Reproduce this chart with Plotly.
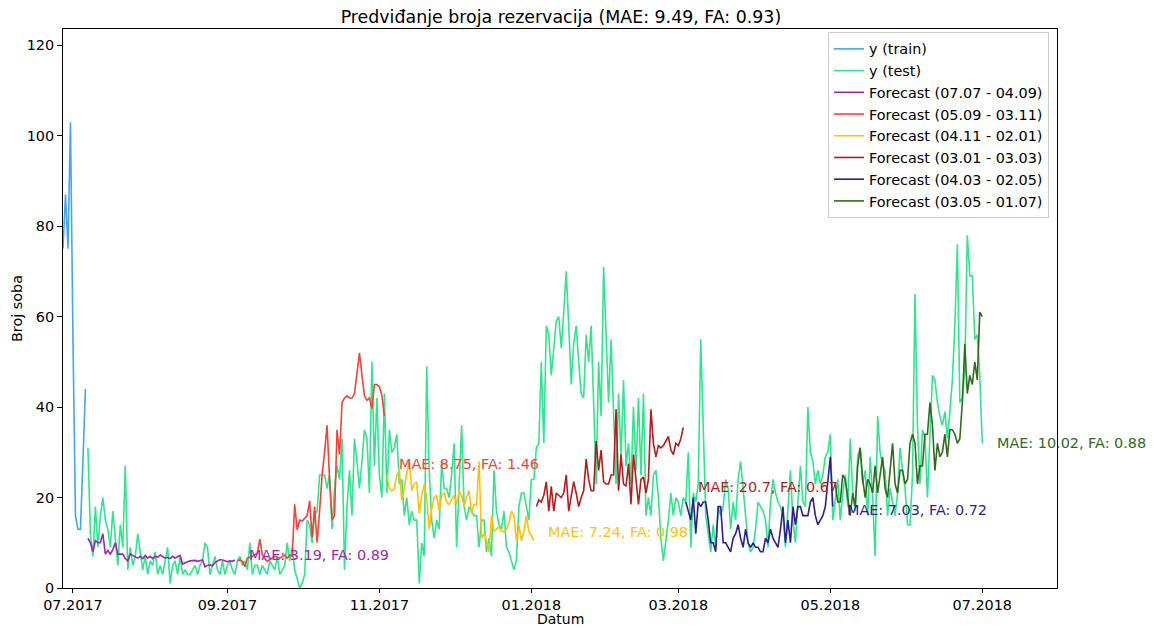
import pandas as pd
import plotly.graph_objects as go

# ---- data -------------------------------------------------------------
train_start = "2017-06-27"
train_values = [75, 87, 75, 103, 55, 16, 13, 13, 28, 44]

test_start = "2017-07-07"
test_values = [
    31, 12, 7, 18, 9, 16, 20, 15, 13, 9,
    17, 10, 5, 14, 9, 27, 4, 9, 5, 7,
    12, 8, 4, 7, 3, 6, 5, 8, 3, 5,
    3, 6, 9, 1, 5, 6, 3, 7, 3, 4,
    3, 3, 4, 5, 3, 5, 6, 10, 9, 3,
    5, 7, 4, 3, 6, 3, 5, 6, 4, 3,
    6, 7, 5, 6, 4, 10, 3, 5, 5, 3,
    5, 4, 3, 6, 5, 4, 7, 3, 4, 5,
    10, 6, 9, 4, 2, 0, 1, 3, 15, 14,
    10, 16, 17, 25, 25, 25, 22, 25, 13, 22,
    27, 24, 33, 4, 18, 26, 16, 33, 28, 22,
    28, 35, 33, 21, 50, 27, 42, 25, 20, 43,
    21, 35, 30, 31, 34, 23, 24, 16, 20, 14,
    17, 15, 15, 1, 10, 7, 49, 26, 15, 11,
    15, 13, 28, 22, 22, 20, 25, 32, 9, 22,
    36, 18, 15, 18, 17, 16, 16, 9, 15, 15,
    8, 11, 7, 26, 17, 14, 13, 17, 9, 8,
    6, 4, 6, 18, 21, 21, 18, 15, 24, 24,
    31, 32, 50, 32, 58, 56, 47, 54, 59, 60,
    53, 61, 70, 58, 45, 54, 58, 50, 43, 42,
    56, 50, 58, 41, 23, 50, 38, 71, 56, 41,
    55, 40, 23, 43, 29, 46, 27, 32, 23, 40,
    26, 42, 25, 43, 16, 20, 16, 25, 26, 20,
    11, 6, 10, 15, 21, 16, 20, 19, 16, 20,
    19, 30, 9, 21, 19, 23, 55, 38, 16, 12,
    8, 14, 9, 18, 16, 18, 24, 22, 13, 19,
    15, 24, 28, 22, 16, 10, 8, 9, 13, 19,
    18, 17, 15, 9, 19, 24, 21, 19, 18, 16,
    9, 19, 26, 15, 10, 19, 27, 19, 18, 40,
    30, 28, 23, 26, 23, 25, 29, 30, 34, 15,
    19, 24, 15, 21, 25, 18, 33, 21, 17, 29,
    31, 23, 26, 16, 29, 20, 7, 38, 30, 27,
    26, 16, 22, 19, 16, 21, 31, 26, 22, 14,
    14, 25, 65, 36, 23, 35, 33, 20, 34, 47,
    46, 41, 38, 36, 39, 33, 39, 46, 58, 76,
    41, 42, 48, 78, 69, 69, 55, 56, 47, 32,
]

forecast_labels = [
    "Forecast (07.07 - 04.09)",
    "Forecast (05.09 - 03.11)",
    "Forecast (04.11 - 02.01)",
    "Forecast (03.01 - 03.03)",
    "Forecast (04.03 - 02.05)",
    "Forecast (03.05 - 01.07)",
]
forecast_starts = ["2017-07-07", "2017-09-05", "2017-11-04",
                   "2018-01-03", "2018-03-04", "2018-05-03"]

forecast_1 = [
    11, 10, 8, 10.5, 10, 10, 12, 7.5, 8.3, 7.5,
    8.5, 10, 7.5, 7.5, 7.5, 6.5, 6, 7.5, 7.2, 7,
    6.6, 7, 6.5, 7.2, 6.6, 7, 6.5, 7, 6.8, 7.3,
    7, 6.6, 6.8, 6.5, 7, 6.6, 6.9, 7.2, 5.3, 5.6,
    5.8, 6, 6, 6.1, 5.9, 6, 6.2, 4.7, 5, 5.1,
    4.9, 5.6, 6, 6.3, 6.2, 6, 5.8, 6, 5.9, 6.2,
]
forecast_2 = [
    6, 6.2, 5.9, 4.7, 6.6, 6.8, 7, 7.4, 7.7, 10.8,
    7.3, 6.5, 5.9, 6.3, 6.6, 7, 6.8, 6.6, 7, 7.3,
    6.6, 7.3, 7, 18.5, 12.8, 15, 14.8, 15.5, 16, 19.3,
    11.2, 18, 10, 17, 25, 30, 36, 24, 15, 16,
    35, 29.5, 41, 42, 42.5, 42, 42, 43, 47, 52,
    47, 42.5, 41.5, 42, 39.7, 45, 45, 44.5, 42.6, 38,
]
forecast_3 = [
    25, 22, 21.5, 22, 25, 26, 19.5, 22, 25.5, 28,
    21.5, 23, 23.5, 16.5, 20.5, 23, 20, 13, 17.5, 20,
    20.5, 17, 20.5, 21, 19, 18.5, 19.5, 20.5, 18.5, 21.5,
    20.5, 18, 20, 21.5, 16.5, 18.5, 18.5, 28, 11, 12,
    10.5, 8, 16, 12.5, 13, 13.5, 12.5, 12.5, 13, 14.5,
    17, 16, 10.5, 14, 10.5, 12.5, 16, 12.5, 11.5, 10.5,
]
forecast_4 = [
    18, 19.5, 19, 20.5, 23.5, 17, 22.5, 17, 21, 20.5,
    20, 21, 25, 17, 20, 23.5, 21, 18, 20, 21.5,
    28.5, 24, 21.5, 21.5, 32.5, 26, 30.5, 23.5, 23, 23,
    25, 25, 39.5, 21.5, 29.5, 23, 22.5, 27.5, 18.5, 29.5,
    24, 18.5, 24, 24.5, 21, 24, 39.5, 32, 29, 31.5,
    31, 31.5, 32.5, 33.5, 30.5, 29.5, 32, 31.5, 33, 35.5,
]
forecast_5 = [
    19, 17, 15, 20, 12, 19, 18, 19, 19, 15,
    10, 10, 8, 18, 18, 10, 10, 9, 8, 11,
    12, 14, 11, 9, 13, 10, 9, 10, 9, 9,
    8, 8, 11, 10, 13, 11, 10, 9, 13, 18,
    10, 15, 10, 18, 14, 18, 18, 16, 16, 16,
    19, 20, 16, 14, 15, 16, 18, 24, 29, 18,
]
forecast_6 = [
    23, 19, 19, 25, 24, 20, 16, 21, 18, 27,
    31, 24, 20, 24, 23, 21, 27, 21, 25, 29,
    22, 20, 26, 32, 23, 21, 26, 26, 23, 24,
    32, 34, 32, 23, 27, 27, 34, 34, 41, 36,
    26, 32, 29, 30, 34, 29, 35, 35, 34, 32,
    33, 41, 54, 43, 47, 45, 50, 46, 61, 60,
]
forecast_values = [forecast_1, forecast_2, forecast_3,
                   forecast_4, forecast_5, forecast_6]

forecast_colors = ["#9c27b0", "#f44336", "#ffc107",
                   "#b71c1c", "#2e1f8f", "#33691e"]

metric_labels = [
    "MAE: 3.19, FA: 0.89",
    "MAE: 8.75, FA: 1.46",
    "MAE: 7.24, FA: 0.98",
    "MAE: 20.7, FA: 0.67",
    "MAE: 7.03, FA: 0.72",
    "MAE: 10.02, FA: 0.88",
]
metric_y = [7.2, 27.4, 12.4, 22.3, 17.3, 32.1]

tick_dates = ["2017-07-01", "2017-09-01", "2017-11-01", "2018-01-01",
              "2018-03-01", "2018-05-01", "2018-07-01"]
tick_text = ["07.2017", "09.2017", "11.2017", "01.2018",
             "03.2018", "05.2018", "07.2018"]

# ---- figure -----------------------------------------------------------
FONT = "DejaVu Sans"
FS = 14.4
LW = 1.6
MARGIN_B = 40
fig = go.Figure()

train_dates = pd.date_range(train_start, periods=len(train_values), freq="D")
fig.add_trace(go.Scatter(x=train_dates, y=train_values, mode="lines",
                         name="y (train)", line=dict(color="#42a5f5", width=LW)))

test_dates = pd.date_range(test_start, periods=len(test_values), freq="D")
fig.add_trace(go.Scatter(x=test_dates, y=test_values, mode="lines",
                         name="y (test)", line=dict(color="#2ee68c", width=LW)))

annotations = []
for label, start, values, color, text, ty in zip(
        forecast_labels, forecast_starts, forecast_values,
        forecast_colors, metric_labels, metric_y):
    dates = pd.date_range(start, periods=len(values), freq="D")
    fig.add_trace(go.Scatter(x=dates, y=values, mode="lines", name=label,
                             line=dict(color=color, width=LW)))
    annotations.append(dict(
        x=dates[-1] + pd.Timedelta(days=5), y=ty, xref="x", yref="y",
        text=text, showarrow=False, xanchor="left", yanchor="middle",
        font=dict(family=FONT, size=FS, color=color),
    ))

# x-axis title, sitting at the bottom edge under the tick labels
annotations.append(dict(
    x=0.5, y=0, xref="paper", yref="paper", text="Datum", showarrow=False,
    xanchor="center", yanchor="bottom", yshift=-MARGIN_B, borderpad=0,
    font=dict(family=FONT, size=14, color="black"),
))

fig.update_layout(
    width=1153, height=628,
    margin=dict(l=63, r=96, t=29, b=MARGIN_B),
    paper_bgcolor="white", plot_bgcolor="white",
    font=dict(family=FONT, size=FS, color="black"),
    title=dict(text="Predviđanje broja rezervacija (MAE: 9.49, FA: 0.93)",
               x=0.4865, xanchor="center", y=1 - 17 / 628, yanchor="middle",
               yref="container", font=dict(family=FONT, size=17.4, color="black")),
    showlegend=True,
    legend=dict(x=0.992, y=1 - 3 / 559, xanchor="right", yanchor="top",
                bgcolor="rgba(255,255,255,0.8)", bordercolor="#cccccc",
                borderwidth=1, font=dict(family=FONT, size=FS, color="black"),
                itemwidth=30, tracegroupgap=0),
    annotations=annotations,
)

fig.update_xaxes(
    type="date", range=["2017-06-27", "2018-07-31"], automargin=False,
    tickmode="array", tickvals=tick_dates, ticktext=tick_text,
    showline=True, linecolor="black", linewidth=1, mirror=True,
    ticks="outside", ticklen=4, tickcolor="black", showgrid=False,
    zeroline=False, tickfont=dict(family=FONT, size=FS, color="black"),
)
fig.update_yaxes(
    range=[0, 123.6], automargin=False,
    tickmode="array", tickvals=[0, 20, 40, 60, 80, 100, 120],
    showline=True, linecolor="black", linewidth=1, mirror=True,
    ticks="outside", ticklen=5, tickcolor="black", showgrid=False,
    zeroline=False, tickfont=dict(family=FONT, size=FS, color="black"),
    title=dict(text="Broj soba", standoff=0, font=dict(family=FONT, size=FS)),
)

fig.write_html("out.html")
